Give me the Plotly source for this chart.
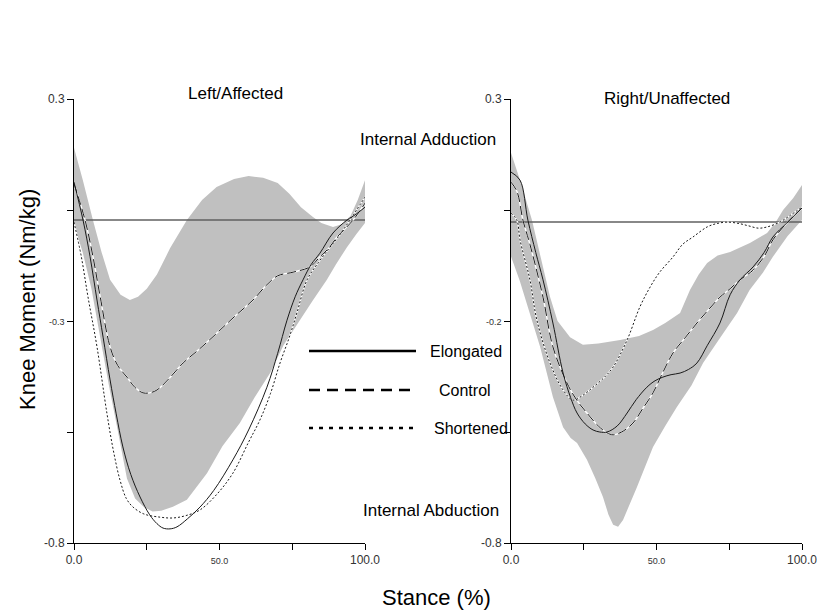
import plotly.graph_objects as go

W, H = 817, 612

# ---------------- data ----------------
# Left / Affected
left_band_upper_x = [0, 3, 6.5, 9.5, 12.4, 16, 19.2, 22, 25, 28.5, 33, 38.8, 44, 49, 55, 60, 65, 70, 74, 78, 82, 85, 89, 92, 95, 97.5, 100]
left_band_upper_y = [0.179, 0.10, 0.0, -0.08, -0.148, -0.185, -0.198, -0.19, -0.17, -0.135, -0.07, 0.0, 0.05, 0.082, 0.102, 0.109, 0.105, 0.092, 0.065, 0.032, 0.008, -0.007, -0.017, -0.01, 0.01, 0.05, 0.099]
left_band_lower_x = [0, 3, 6, 9, 12, 15, 18.2, 21, 24, 27, 30, 34, 38.8, 45.7, 51, 57, 62, 67.4, 72, 77.7, 82, 86.9, 90, 93.8, 97, 100]
left_band_lower_y = [-0.01, -0.08, -0.17, -0.29, -0.41, -0.52, -0.64, -0.69, -0.711, -0.722, -0.72, -0.71, -0.693, -0.627, -0.56, -0.503, -0.44, -0.379, -0.31, -0.248, -0.20, -0.148, -0.11, -0.067, -0.035, -0.007]

left_elong_x = [0, 3.1, 5.5, 7.9, 10, 12.4, 14.5, 16.8, 19.5, 22.7, 26, 28.5, 30.6, 33, 35.4, 39, 43.3, 48, 54.6, 60, 66.3, 70, 73.2, 76, 78.7, 81.5, 84.5, 89, 93.8, 97, 100]
left_elong_y = [0.094, 0.0, -0.09, -0.198, -0.29, -0.396, -0.48, -0.562, -0.63, -0.686, -0.73, -0.752, -0.763, -0.765, -0.760, -0.74, -0.711, -0.67, -0.594, -0.52, -0.414, -0.33, -0.248, -0.19, -0.148, -0.11, -0.082, -0.032, 0.0, 0.015, 0.032]

left_ctrl_x = [0, 3.8, 6.5, 9.0, 12.4, 15, 18.2, 21, 23.7, 26, 28.5, 33, 37.5, 43, 49.1, 55, 61.5, 66.3, 70, 75.3, 81.1, 84.5, 87.5, 90.4, 95.9, 100]
left_ctrl_y = [0.09, 0.0, -0.09, -0.19, -0.314, -0.36, -0.389, -0.415, -0.428, -0.428, -0.421, -0.39, -0.354, -0.32, -0.280, -0.24, -0.198, -0.16, -0.138, -0.129, -0.116, -0.091, -0.07, -0.042, 0.0, 0.042]

left_short_x = [0, 2.5, 4.8, 7.9, 11.3, 13.5, 15.8, 18, 20.3, 24, 29.6, 34, 38.5, 43.3, 49, 54.6, 60, 63.9, 67.5, 70.8, 74, 76.6, 80.1, 84, 88, 91.5, 94.8, 100]
left_short_y = [-0.005, -0.09, -0.19, -0.314, -0.478, -0.57, -0.644, -0.69, -0.711, -0.728, -0.736, -0.738, -0.732, -0.718, -0.68, -0.627, -0.55, -0.495, -0.43, -0.354, -0.29, -0.230, -0.148, -0.105, -0.067, -0.035, 0.0, 0.057]

# Right / Unaffected
right_band_upper_x = [0, 3.5, 7.2, 10.5, 13.4, 16, 20.3, 24.7, 30, 37.5, 44, 48.8, 53, 58.1, 61.5, 64.5, 67.4, 71, 75.3, 82.1, 88, 91, 93.5, 97, 100]
right_band_upper_y = [0.167, 0.09, 0.0, -0.10, -0.19, -0.25, -0.29, -0.309, -0.306, -0.297, -0.287, -0.272, -0.255, -0.230, -0.173, -0.135, -0.106, -0.088, -0.079, -0.057, -0.032, -0.005, 0.025, 0.055, 0.087]
right_band_lower_x = [0, 3, 5.5, 10, 14.4, 17.9, 20.5, 22.7, 26.1, 29, 31.6, 33.5, 35.1, 36.8, 38.5, 41, 43.3, 48.8, 53, 57.0, 62, 66.0, 72, 77.7, 82, 86.6, 90, 95, 100]
right_band_lower_y = [-0.09, -0.15, -0.21, -0.314, -0.438, -0.513, -0.54, -0.552, -0.594, -0.64, -0.686, -0.73, -0.755, -0.76, -0.743, -0.70, -0.661, -0.562, -0.51, -0.463, -0.41, -0.354, -0.29, -0.23, -0.173, -0.13, -0.091, -0.04, 0.0]

right_elong_x = [0, 3.1, 5.8, 8.5, 11.0, 14.4, 17.9, 20.5, 22.7, 25.5, 28.2, 30.5, 33.0, 36.5, 39.9, 43, 46.7, 49.5, 52.2, 55, 58.1, 61, 63.9, 67.5, 71.8, 75.3, 78.7, 83.2, 87, 90.0, 94.8, 100]
right_elong_y = [0.119, 0.099, 0.0, -0.08, -0.148, -0.255, -0.379, -0.44, -0.478, -0.505, -0.520, -0.525, -0.525, -0.51, -0.478, -0.445, -0.414, -0.398, -0.389, -0.383, -0.379, -0.37, -0.354, -0.31, -0.255, -0.185, -0.148, -0.116, -0.08, -0.042, -0.007, 0.030]

right_ctrl_x = [0, 2.1, 4.1, 6.5, 11.0, 14.4, 19.2, 22.5, 26.1, 30, 33, 35.1, 38, 41.9, 45, 48.8, 52, 55.7, 60, 63.9, 67.5, 71.8, 75.3, 78.7, 83.2, 87, 90.0, 94.8, 100]
right_ctrl_y = [0.094, 0.07, 0.0, -0.06, -0.191, -0.314, -0.403, -0.445, -0.478, -0.51, -0.527, -0.532, -0.525, -0.503, -0.47, -0.428, -0.38, -0.329, -0.29, -0.255, -0.225, -0.191, -0.17, -0.148, -0.124, -0.09, -0.049, -0.007, 0.030]

right_short_x = [0, 2.0, 3.1, 6.5, 8.9, 13.4, 17.9, 21.3, 24.5, 28.2, 32, 35.1, 39.9, 44.3, 47.8, 51, 55.7, 59, 62.5, 67.4, 70.5, 74.2, 78, 81.5, 85, 88, 92.4, 96, 100]
right_short_y = [0.017, 0.0, -0.049, -0.148, -0.248, -0.354, -0.421, -0.446, -0.435, -0.414, -0.39, -0.364, -0.297, -0.215, -0.166, -0.13, -0.091, -0.06, -0.042, -0.017, -0.009, -0.005, -0.008, -0.014, -0.02, -0.017, -0.005, 0.012, 0.032]

reference_line = [0.0, -0.005]   # horizontal reference line (left, right)
x_ticks = [0, 25, 50, 75, 100]
x_ticktext = ["0.0", "", "<span style='font-size:9px'>50.0</span>", "", "100.0"]
y_ticks = [0.3, 0.025, -0.25, -0.525, -0.8]
left_y_ticktext = ["0.3", "", "<span style='font-size:9px'>-0.3</span>", "", "-0.8"]
right_y_ticktext = ["0.3", "", "<span style='font-size:9px'>-0.2</span>", "", "-0.8"]
legend_names = ["Elongated", "Control", "Shortened"]

# ---------------- figure ----------------
BAND = "#c0c0c0"
INK = "#1a1a1a"
FONT = "Liberation Sans, Arial, sans-serif"

fig = go.Figure()

panels = [
    ("x", "y", left_band_upper_x, left_band_upper_y, left_band_lower_x, left_band_lower_y,
     left_elong_x, left_elong_y, left_ctrl_x, left_ctrl_y, left_short_x, left_short_y, reference_line[0]),
    ("x2", "y2", right_band_upper_x, right_band_upper_y, right_band_lower_x, right_band_lower_y,
     right_elong_x, right_elong_y, right_ctrl_x, right_ctrl_y, right_short_x, right_short_y, reference_line[1]),
]

for (xa, ya, bux, buy, blx, bly, ex, ey, cx, cy, sx, sy, ref) in panels:
    fig.add_trace(go.Scatter(x=bux + blx[::-1], y=buy + bly[::-1], fill="toself",
                             fillcolor=BAND, line=dict(width=0), mode="lines",
                             xaxis=xa, yaxis=ya, showlegend=False, hoverinfo="skip"))
    fig.add_trace(go.Scatter(x=[0, 100], y=[ref, ref], mode="lines",
                             line=dict(color="#606060", width=1.5),
                             xaxis=xa, yaxis=ya, showlegend=False))
    # white halo under the broken lines
    for (hx, hy) in [(cx, cy), (sx, sy)]:
        fig.add_trace(go.Scatter(x=hx, y=hy, mode="lines", line=dict(color="white", width=1.4, shape="spline"),
                                 xaxis=xa, yaxis=ya, showlegend=False, hoverinfo="skip"))
    fig.add_trace(go.Scatter(x=ex, y=ey, mode="lines", name=legend_names[0],
                             line=dict(color=INK, width=1, shape="spline"),
                             xaxis=xa, yaxis=ya, showlegend=False))
    fig.add_trace(go.Scatter(x=cx, y=cy, mode="lines", name=legend_names[1],
                             line=dict(color=INK, width=1, dash="9px,4px", shape="spline"),
                             xaxis=xa, yaxis=ya, showlegend=False))
    fig.add_trace(go.Scatter(x=sx, y=sy, mode="lines", name=legend_names[2],
                             line=dict(color=INK, width=1, dash="2px,2px", shape="spline"),
                             xaxis=xa, yaxis=ya, showlegend=False))

ydom = [1 - 543 / H, 1 - 99 / H]
axis_common = dict(showline=True, linecolor="black", linewidth=1, ticks="outside", ticklen=6,
                   tickcolor="black", tickwidth=1, showgrid=False, zeroline=False, automargin=False,
                   ticklabeloverflow="allow",
                   tickfont=dict(family=FONT, size=12, color="#333"))

fig.update_layout(
    width=W, height=H, margin=dict(l=0, r=0, t=0, b=0),
    paper_bgcolor="white", plot_bgcolor="white", showlegend=False,
    xaxis=dict(domain=[74 / W, 365 / W], range=[0, 100], tickvals=x_ticks, ticktext=x_ticktext,
               anchor="y", **axis_common),
    yaxis=dict(domain=ydom, range=[-0.8, 0.3], tickvals=y_ticks, ticktext=left_y_ticktext,
               anchor="x", **axis_common),
    xaxis2=dict(domain=[511 / W, 802 / W], range=[0, 100], tickvals=x_ticks, ticktext=x_ticktext,
                anchor="y2", **axis_common),
    yaxis2=dict(domain=ydom, range=[-0.8, 0.3], tickvals=y_ticks, ticktext=right_y_ticktext,
                anchor="x2", **axis_common),
)


def P(px, py):
    return px / W, 1 - py / H


annots = []


def text(s, px, py, size, xanchor="center", angle=0):
    x, y = P(px, py)
    annots.append(dict(text=s, x=x, y=y, xref="paper", yref="paper", xanchor=xanchor,
                       yanchor="middle", showarrow=False, textangle=angle,
                       font=dict(family=FONT, size=size, color="black")))


text("Left/Affected", 236, 93, 17)
text("Right/Unaffected", 667, 99, 17)
text("Internal Adduction", 428, 140, 17)
text("Internal Abduction", 431, 510, 17)
text("Knee Moment (Nm/kg)", 27, 300, 22, angle=-90)
text("Stance (%)", 436, 597, 22)

legend_rows = [(351, 428, "solid"), (390, 437, "11px,7px"), (428, 432, "4px,6px")]
shapes = []
for name, (py, tx, dash) in zip(legend_names, legend_rows):
    x0, y0 = P(309, py)
    x1, _ = P(416, py)
    shapes.append(dict(type="line", xref="paper", yref="paper", x0=x0, x1=x1, y0=y0, y1=y0,
                       line=dict(color="black", width=2.5, dash=dash)))
    text(name, tx, py, 16, xanchor="left")

fig.update_layout(annotations=annots, shapes=shapes)
fig.write_html("out.html", config={"displayModeBar": False},
               post_script="document.body.style.margin='0';document.body.style.padding='0';"
                           "document.documentElement.style.overflow='hidden';")
